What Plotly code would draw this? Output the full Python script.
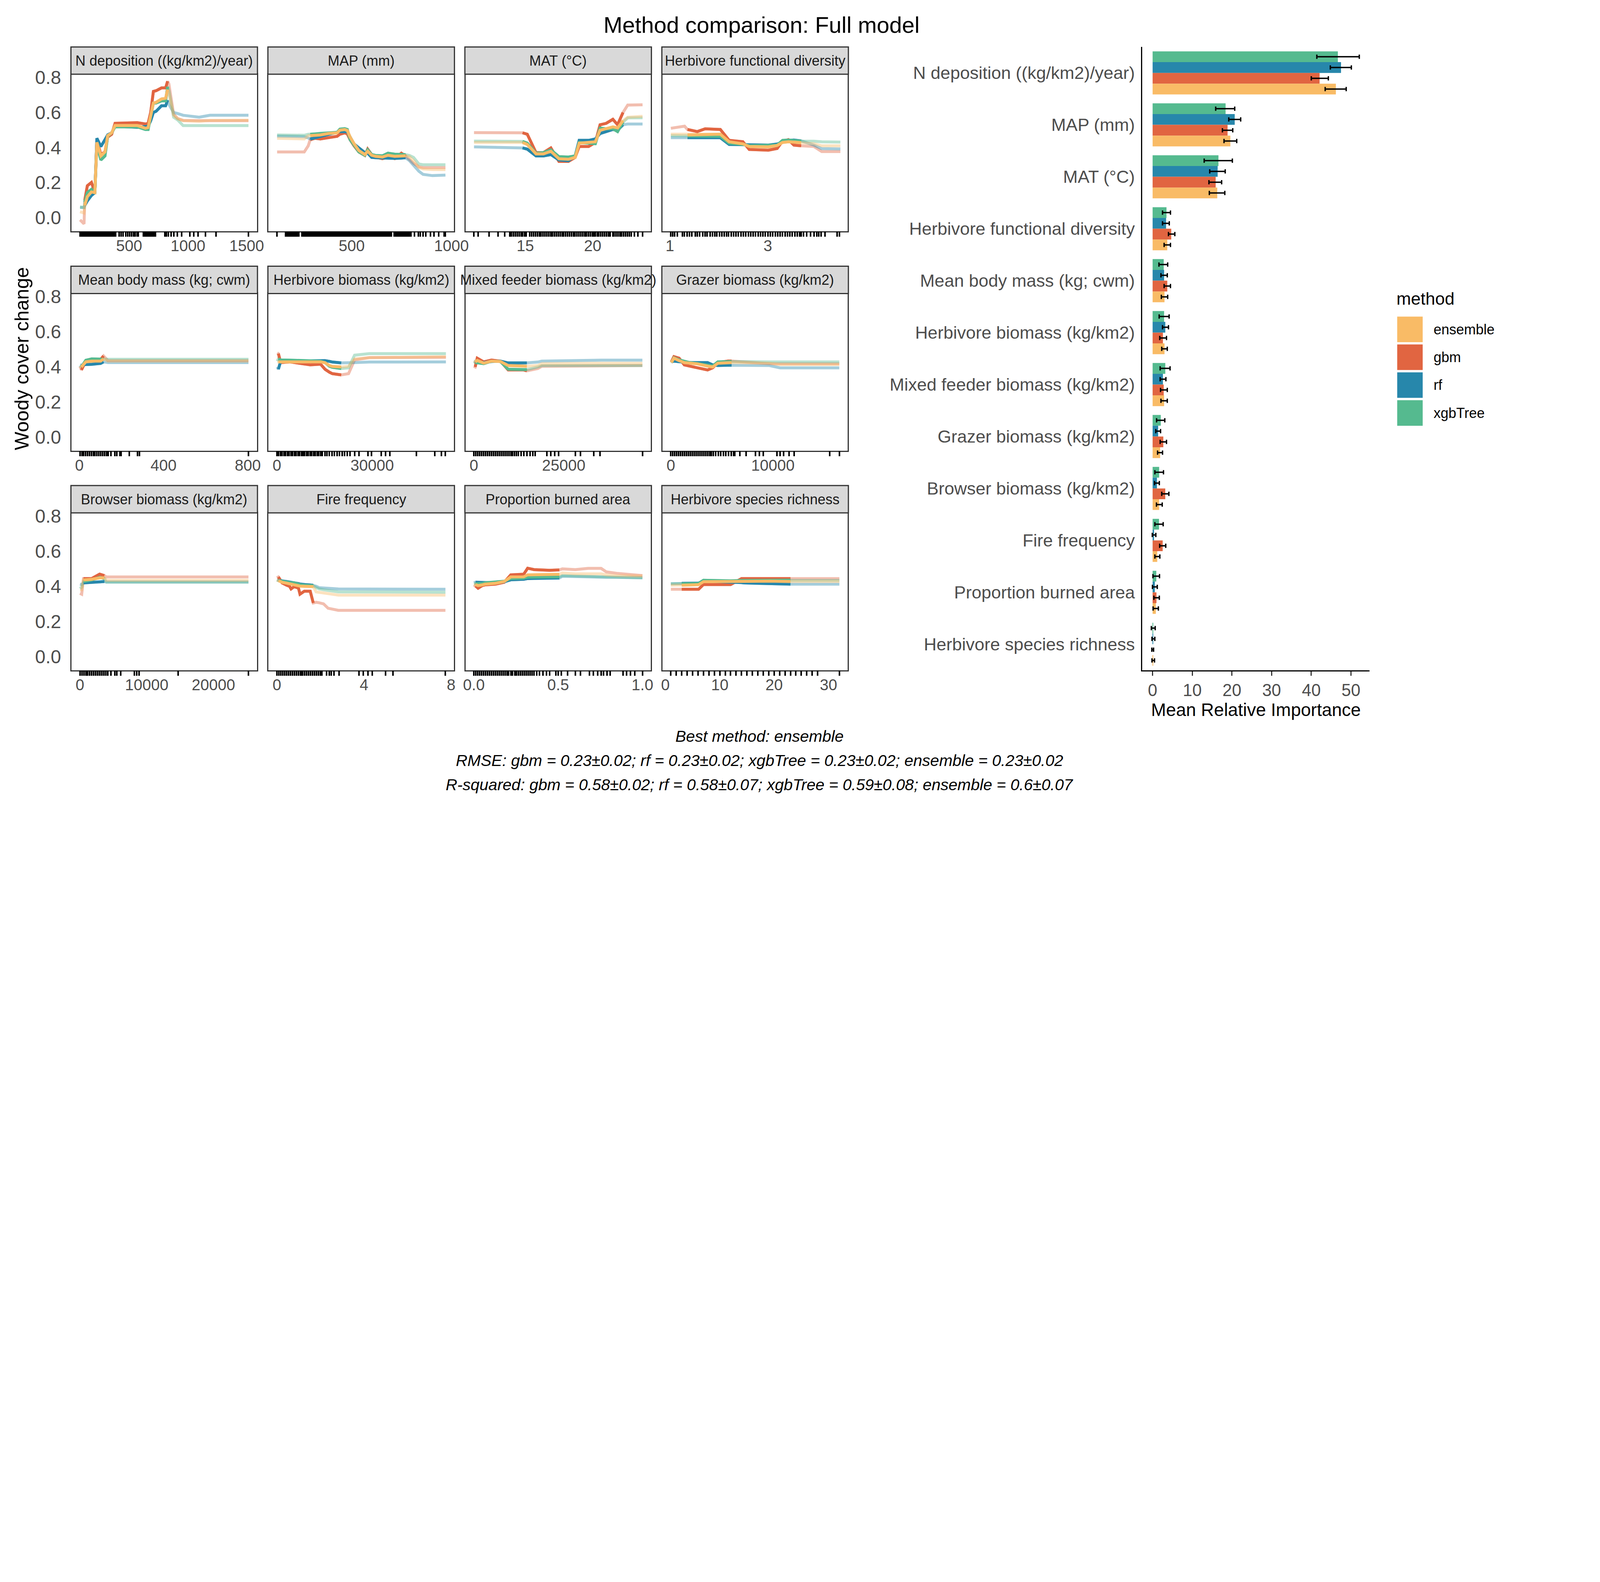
import plotly.graph_objects as go

# layout is laid out in reference pixels (7800 x 4050); the page itself is half that size
W_REF, H_REF = 7800, 4050
K = 0.5
W, H = int(W_REF * K), int(H_REF * K)

METHODS = ["ensemble", "gbm", "rf", "xgbTree"]
METHOD_COLORS = ["#F9BB66", "#E16541", "#2787AB", "#55BA8F"]

FEATURES = [
    "N deposition ((kg/km2)/year)", "MAP (mm)", "MAT (°C)", "Herbivore functional diversity",
    "Mean body mass (kg; cwm)", "Herbivore biomass (kg/km2)", "Mixed feeder biomass (kg/km2)",
    "Grazer biomass (kg/km2)", "Browser biomass (kg/km2)", "Fire frequency",
    "Proportion burned area", "Herbivore species richness",
]

# ---- partial dependence curves (x grid, one y list per method), core range, rug, x ticks
NDEP_X = [82, 116, 122, 144, 179, 208, 225, 259, 294, 317, 351, 380, 569, 638, 661, 683, 706, 729,
          775, 810, 827, 838, 878, 913, 959, 1096, 1188, 1515]
NDEP_ENS = [.034, .027, .07, .12, .147, .143, .43, .352, .375, .468, .484, .526, .526, .51, .514, .576, .654, .658,
            .677, .681, .731, .708, .584, .565, .553, .549, .555, .556]
NDEP_GBM = [-.012, -.035, .10, .182, .201, .143, .445, .36, .375, .46, .476, .538, .542, .534, .538, .60, .72, .724,
            .74, .74, .778, .762, .59, .565, .555, .553, .553, .553]
NDEP_RF = [.058, .058, .07, .096, .127, .143, .453, .406, .445, .472, .484, .522, .515, .522, .522, .553, .60, .607,
           .638, .638, .67, .646, .60, .594, .584, .573, .584, .584]
NDEP_XGB = [.062, .058, .09, .143, .162, .139, .422, .329, .352, .464, .484, .518, .518, .503, .503, .569, .654, .654,
            .666, .666, .747, .724, .573, .557, .525, .525, .525, .525]
NDEP_CORE = [120, 828]
NDEP_RUG = [81, 92, 104, 115, 127, 139, 150, 162, 174, 185, 197, 209, 220, 232, 244, 255, 267, 279, 290, 302,
            314, 325, 337, 349, 360, 372, 385, 414, 431, 448, 471, 489, 503, 520, 537, 552, 569, 578, 620, 633,
            645, 657, 671, 684, 697, 709, 724, 804, 816, 833, 856, 881, 911, 945, 1016, 1048, 1085, 1148, 1240, 1515]
NDEP_TICKS = [500, 1000, 1500]

MAP_X = [126, 262, 282, 292, 316, 343, 383, 427, 441, 465, 478, 492, 512, 536, 566, 580, 600, 620, 654, 682,
         716, 749, 770, 790, 810, 837, 858, 905, 970]
MAP_ENS = [.453, .449, .467, .468, .470, .472, .480, .484, .499, .503, .497, .460, .422, .383, .360, .379, .356, .350,
           .346, .356, .350, .353, .353, .348, .325, .286, .278, .275, .274]
MAP_GBM = [.375, .375, .410, .445, .453, .449, .458, .464, .476, .484, .478, .445, .410, .375, .355, .391, .360, .345,
           .337, .345, .337, .368, .352, .330, .310, .290, .286, .286, .286]
MAP_RF = [.465, .462, .455, .449, .455, .464, .476, .487, .491, .493, .490, .460, .420, .398, .371, .368, .344, .342,
          .340, .338, .338, .340, .342, .325, .300, .265, .247, .240, .243]
MAP_XGB = [.472, .470, .476, .476, .478, .482, .485, .487, .505, .508, .503, .445, .414, .375, .356, .387, .360, .355,
           .353, .368, .362, .361, .360, .355, .344, .306, .302, .302, .302]
MAP_CORE = [290, 772]
MAP_RUG = [125, 168, 175, 182, 190, 197, 204, 212, 219, 227, 234, 251, 258, 266, 273, 280, 287, 295, 302, 309,
           316, 324, 331, 338, 345, 352, 360, 367, 374, 381, 389, 396, 403, 410, 418, 425, 432, 439, 446, 454,
           461, 468, 475, 483, 490, 497, 504, 511, 519, 526, 533, 540, 548, 555, 562, 569, 577, 584, 591, 598,
           605, 613, 620, 627, 634, 642, 649, 656, 663, 670, 678, 685, 692, 699, 712, 719, 727, 734, 741, 748,
           756, 763, 770, 777, 784, 790, 797, 814, 834, 844, 858, 871, 895, 912, 936, 963, 970]
MAP_TICKS = [500, 1000]

MAT_X = [11.2, 14.8, 15.15, 15.8, 16.35, 16.9, 17.5, 18.2, 18.7, 19.0, 19.7, 20.2, 20.55, 21.0, 21.5, 21.85,
         22.25, 22.6, 23.7]
MAT_ENS = [.429, .429, .418, .364, .364, .379, .336, .333, .344, .425, .429, .433, .499, .507, .518, .512, .553, .573, .578]
MAT_GBM = [.485, .484, .476, .371, .371, .398, .321, .321, .344, .406, .406, .429, .530, .538, .561, .530, .600, .642, .644]
MAT_RF = [.404, .398, .391, .352, .352, .360, .329, .325, .352, .441, .441, .449, .480, .491, .503, .499, .530, .534, .534]
MAT_XGB = [.437, .435, .425, .367, .371, .387, .348, .346, .352, .429, .425, .422, .511, .507, .507, .491, .545, .569, .570]
MAT_CORE = [14.8, 22.25]
MAT_RUG = [11.19, 11.51, 12.31, 12.97, 13.47, 13.84, 13.98, 14.12, 14.26, 14.4, 14.54, 14.68, 14.82, 14.96, 15.06,
           15.34, 15.48, 15.62, 15.76, 15.9, 16.04, 16.18, 16.32, 16.46, 16.6, 16.74, 16.88, 17.02, 17.16, 17.3,
           17.44, 17.58, 17.72, 17.86, 18.0, 18.14, 18.28, 18.42, 18.56, 18.7, 18.84, 18.98, 19.12, 19.26, 19.4,
           19.54, 19.68, 19.82, 19.96, 20.09, 20.19, 20.33, 20.47, 20.61, 20.75, 20.89, 21.03, 21.17, 21.31, 21.49,
           21.59, 21.73, 21.87, 22.01, 22.15, 22.29, 22.43, 22.57, 22.71, 22.85, 23.08, 23.36, 23.69]
MAT_TICKS = [15, 20]

HFD_X = [1.02, 1.30, 1.36, 1.56, 1.72, 2.03, 2.21, 2.49, 2.62, 3.01, 3.19, 3.30, 3.42, 3.53, 3.68, 3.94, 4.10, 4.48]
HFD_ENS = [.476, .476, .472, .474, .476, .476, .433, .421, .406, .404, .412, .429, .433, .430, .428, .422, .410, .410]
HFD_GBM = [.510, .522, .503, .491, .507, .503, .441, .433, .389, .385, .395, .437, .445, .414, .410, .406, .377, .377]
HFD_RF = [.456, .456, .456, .456, .456, .456, .418, .416, .414, .414, .420, .429, .441, .443, .438, .414, .394, .392]
HFD_XGB = [.468, .466, .466, .466, .464, .464, .425, .418, .410, .410, .414, .441, .443, .440, .437, .436, .433, .431]
HFD_CORE = [1.35, 3.7]
HFD_RUG = [1.02, 1.06, 1.10, 1.15, 1.26, 1.30, 1.35, 1.40, 1.45, 1.52, 1.56, 1.61, 1.67, 1.72, 1.76, 1.82, 1.87,
           1.92, 1.96, 2.01, 2.06, 2.11, 2.16, 2.20, 2.25, 2.30, 2.35, 2.40, 2.45, 2.50, 2.55, 2.60, 2.65, 2.70,
           2.75, 2.80, 2.85, 2.90, 2.95, 3.00, 3.05, 3.10, 3.15, 3.20, 3.25, 3.30, 3.35, 3.40, 3.45, 3.50, 3.55,
           3.60, 3.65, 3.68, 3.73, 3.79, 3.87, 3.94, 4.00, 4.04, 4.09, 4.17, 4.41, 4.46]
HFD_TICKS = [1, 3]

MBM_X = [3, 10, 31, 59, 80, 101, 115, 136, 803]
MBM_ENS = [.404, .400, .429, .433, .433, .433, .446, .433, .433]
MBM_GBM = [.404, .383, .433, .437, .438, .442, .463, .436, .436]
MBM_RF = [.412, .410, .414, .415, .416, .420, .429, .425, .425]
MBM_XGB = [.408, .400, .438, .446, .446, .444, .444, .444, .444]
MBM_CORE = [7, 116]
MBM_RUG = [3, 12, 21, 30, 39, 48, 57, 66, 75, 84, 93, 102, 111, 120, 129, 138, 150, 168, 178, 192, 199, 238, 276, 285, 803]
MBM_TICKS = [0, 400, 800]

HB_X = [100, 460, 1200, 4000, 7700, 10500, 13750, 15150, 16550, 17450, 20250, 22550, 24450, 29100, 53200]
HB_ENS = [.429, .429, .429, .433, .429, .430, .429, .424, .408, .403, .400, .404, .446, .453, .459]
HB_GBM = [.480, .476, .425, .429, .420, .412, .416, .387, .370, .362, .355, .362, .440, .453, .455]
HB_RF = [.400, .387, .433, .433, .433, .436, .437, .436, .432, .428, .423, .423, .425, .428, .429]
HB_XGB = [.433, .446, .440, .439, .436, .436, .433, .425, .404, .398, .391, .395, .467, .476, .476]
HB_CORE = [300, 20300]
HB_RUG = [0, 550, 1100, 1650, 2200, 2750, 3300, 3850, 4400, 4950, 5500, 6050, 6600, 7150, 7700, 8250, 8800, 9350,
          9900, 10450, 11000, 11550, 12100, 12650, 13200, 13750, 14300, 15100, 15700, 16500, 17300, 18100, 18900,
          19700, 20500, 21300, 22100, 23000, 24430, 25830, 28610, 29820, 32790, 34190, 35580, 43940, 49700, 51840, 53050]
HB_TICKS = [0, 30000]

MFB_X = [0, 360, 930, 2730, 4900, 7400, 9550, 13850, 14750, 17800, 18900, 35400, 46900]
MFB_ENS = [.425, .429, .437, .422, .433, .431, .408, .405, .404, .408, .419, .421, .421]
MFB_GBM = [.404, .400, .450, .429, .439, .433, .383, .383, .378, .391, .404, .408, .408]
MFB_RF = [.433, .433, .430, .425, .431, .433, .423, .423, .423, .428, .433, .439, .439]
MFB_XGB = [.420, .425, .424, .419, .433, .431, .387, .385, .385, .400, .408, .408, .408]
MFB_CORE = [200, 14800]
MFB_RUG = [0, 540, 1080, 1620, 2160, 2700, 3240, 3780, 4320, 4860, 5400, 5940, 6480, 7020, 7560, 8100, 8640, 9180,
           9720, 10260, 10800, 11340, 11880, 12430, 13150, 13870, 14730, 15660, 16380, 17100, 20330, 21400, 22480,
           23560, 28230, 29670, 33410, 35060, 46910]
MFB_TICKS = [0, 25000]

GB_X = [50, 300, 810, 1320, 1820, 2580, 3600, 4100, 4600, 5600, 5950, 9650, 10700, 16500]
GB_ENS = [.425, .450, .436, .425, .422, .418, .405, .400, .421, .425, .425, .421, .414, .414]
GB_GBM = [.429, .459, .450, .412, .405, .395, .383, .395, .425, .434, .434, .418, .418, .418]
GB_RF = [.429, .433, .430, .427, .425, .425, .425, .412, .408, .410, .410, .408, .395, .395]
GB_XGB = [.425, .452, .440, .433, .425, .420, .412, .405, .429, .431, .431, .429, .429, .429]
GB_CORE = [0, 5960]
GB_RUG = [0, 190, 380, 570, 760, 950, 1140, 1330, 1520, 1710, 1900, 2090, 2280, 2470, 2660, 2850, 3040, 3230, 3420,
          3610, 3800, 3975, 4150, 4400, 4650, 4900, 5150, 5400, 5650, 5900, 6130, 6250, 6760, 7390, 8280, 8660,
          9040, 10380, 10690, 11060, 11570, 12080, 15550, 16510]
GB_TICKS = [0, 10000]

BB_X = [0, 265, 530, 1770, 2950, 3660, 3970, 25250]
BB_ENS = [.381, .381, .436, .440, .448, .448, .434, .434]
BB_GBM = [.360, .355, .444, .444, .469, .461, .453, .453]
BB_RF = [.412, .410, .419, .422, .428, .427, .425, .425]
BB_XGB = [.387, .395, .427, .436, .451, .444, .423, .423]
BB_CORE = [450, 3670]
BB_RUG = [0, 290, 580, 870, 1160, 1450, 1740, 2030, 2320, 2610, 2900, 3190, 3480, 3770, 4060, 4190, 4640, 5210,
          5520, 6090, 8170, 8500, 8830, 14700, 25250]
BB_TICKS = [0, 10000, 20000]

FF_X = [0, 0.07, 0.24, 0.45, 0.58, 0.65, 0.79, 0.99, 1.06, 1.26, 1.53, 1.67, 1.80, 1.94, 2.14, 2.35, 2.82, 7.74]
FF_ENS = [.436, .432, .423, .418, .414, .412, .410, .402, .401, .400, .399, .398, .368, .365, .362, .360, .350, .350]
FF_GBM = [.448, .453, .419, .406, .400, .385, .398, .390, .355, .372, .372, .305, .309, .306, .300, .275, .263, .263]
FF_RF = [.436, .434, .431, .428, .425, .423, .420, .415, .412, .410, .408, .406, .400, .392, .390, .388, .385, .383]
FF_XGB = [.436, .432, .428, .425, .420, .420, .420, .412, .409, .406, .404, .403, .392, .385, .380, .375, .368, .366]
FF_CORE = [0.03, 1.68]
FF_RUG = [0, 0.09, 0.18, 0.27, 0.36, 0.45, 0.54, 0.63, 0.72, 0.81, 0.9, 0.99, 1.08, 1.13, 1.19, 1.28, 1.37, 1.46,
          1.55, 1.64, 1.73, 1.82, 1.91, 2.0, 2.07, 2.28, 2.4, 2.5, 2.62, 2.86, 3.77, 3.97, 4.18, 4.38, 4.99, 5.33, 7.74]
FF_TICKS = [0, 4, 8]

PBA_X = [0, 0.01, 0.025, 0.05, 0.066, 0.127, 0.18, 0.219, 0.296, 0.319, 0.357, 0.449, 0.507, 0.525, 0.602,
         0.678, 0.755, 0.786, 0.847, 1.0]
PBA_ENS = [.410, .410, .404, .408, .412, .417, .427, .453, .454, .465, .465, .465, .468, .476, .471, .471, .471,
           .465, .461, .458]
PBA_GBM = [.408, .402, .389, .404, .408, .412, .423, .465, .469, .503, .495, .491, .493, .499, .495, .502, .502,
           .482, .474, .461]
PBA_RF = [.420, .423, .423, .422, .421, .419, .426, .437, .440, .444, .445, .446, .447, .457, .454, .454, .452,
          .451, .451, .448]
PBA_XGB = [.415, .414, .414, .416, .420, .423, .429, .444, .446, .452, .452, .452, .454, .461, .459, .459, .457,
           .454, .451, .448]
PBA_CORE = [0.005, 0.51]
PBA_RUG = [0, 0.012, 0.023, 0.035, 0.046, 0.058, 0.069, 0.081, 0.092, 0.104, 0.115, 0.127, 0.138, 0.15, 0.161,
           0.173, 0.184, 0.196, 0.207, 0.219, 0.23, 0.242, 0.253, 0.265, 0.276, 0.288, 0.299, 0.311, 0.322, 0.334,
           0.345, 0.357, 0.372, 0.39, 0.41, 0.43, 0.449, 0.487, 0.5, 0.518, 0.556, 0.602, 0.632, 0.686, 0.71, 0.735,
           0.755, 0.77, 0.79, 0.809, 0.885, 0.905, 0.93, 0.954, 1.0]
PBA_TICKS = [0, 0.5, 1.0]

HSR_X = [1, 3, 4.9, 6.1, 7, 9.7, 12, 14, 14.4, 16.8, 19.2, 23, 32]
HSR_ENS = [.406, .406, .408, .409, .426, .427, .427, .430, .431, .430, .429, .427, .427]
HSR_GBM = [.383, .383, .381, .383, .410, .410, .410, .444, .444, .445, .445, .444, .444]
HSR_RF = [.414, .417, .418, .418, .431, .425, .423, .421, .419, .417, .415, .412, .412]
HSR_XGB = [.414, .414, .415, .416, .434, .431, .431, .433, .433, .433, .433, .435, .433]
HSR_CORE = [3, 23]
HSR_RUG = [1, 2, 3, 4, 5, 6, 7, 8, 9, 10, 11, 12, 13, 14, 15, 16, 17, 18, 19, 20, 21, 22, 23, 24, 25, 26, 27, 28, 32]
HSR_TICKS = [0, 10, 20, 30]

# ---- mean relative importance (same order as FEATURES)
IMP_ENSEMBLE = [46.2, 19.6, 16.3, 3.7, 3.0, 3.0, 2.9, 1.9, 1.65, 1.17, 0.81, 0.08]
IMP_ENSEMBLE_LO = [43.5, 18.0, 14.3, 2.9, 2.2, 2.3, 2.1, 1.25, 0.97, 0.57, 0.12, -0.16]
IMP_ENSEMBLE_HI = [48.8, 21.2, 18.2, 4.5, 3.8, 3.7, 3.7, 2.5, 2.42, 1.82, 1.45, 0.48]
IMP_GBM = [42.1, 18.9, 15.9, 4.7, 3.7, 2.6, 2.8, 2.7, 3.19, 2.54, 0.97, 0.0]
IMP_GBM_LO = [40.0, 17.6, 14.2, 4.0, 2.9, 1.8, 2.0, 1.9, 2.3, 1.78, 0.32, -0.2]
IMP_GBM_HI = [44.3, 20.2, 17.4, 5.6, 4.5, 3.5, 3.7, 3.5, 4.1, 3.31, 1.69, 0.24]
IMP_RF = [47.5, 20.7, 16.4, 3.4, 2.9, 3.2, 2.6, 1.4, 1.09, 0.36, 0.56, 0.12]
IMP_RF_LO = [44.8, 19.2, 14.4, 2.5, 2.1, 2.5, 1.9, 0.8, 0.48, -0.08, -0.04, -0.16]
IMP_RF_HI = [50.1, 22.2, 18.3, 4.2, 3.7, 4.0, 3.35, 2.0, 1.69, 0.81, 1.17, 0.56]
IMP_XGB = [46.7, 18.4, 16.6, 3.5, 2.8, 2.9, 3.2, 2.06, 1.65, 1.61, 0.93, 0.16]
IMP_XGB_LO = [41.4, 15.9, 13.0, 2.5, 1.6, 1.65, 1.9, 1.0, 0.57, 0.57, 0.08, -0.32]
IMP_XGB_HI = [52.1, 20.7, 20.1, 4.5, 3.8, 4.16, 4.4, 3.07, 2.74, 2.66, 1.74, 0.65]

TITLE = "Method comparison: Full model"
CAPTION = [
    "Best method: ensemble",
    "RMSE: gbm = 0.23±0.02; rf = 0.23±0.02; xgbTree = 0.23±0.02; ensemble = 0.23±0.02",
    "R-squared: gbm = 0.58±0.02; rf = 0.58±0.07; xgbTree = 0.59±0.08; ensemble = 0.6±0.07",
]

PANELS = [
    (NDEP_X, [NDEP_ENS, NDEP_GBM, NDEP_RF, NDEP_XGB], NDEP_CORE, NDEP_RUG, NDEP_TICKS),
    (MAP_X, [MAP_ENS, MAP_GBM, MAP_RF, MAP_XGB], MAP_CORE, MAP_RUG, MAP_TICKS),
    (MAT_X, [MAT_ENS, MAT_GBM, MAT_RF, MAT_XGB], MAT_CORE, MAT_RUG, MAT_TICKS),
    (HFD_X, [HFD_ENS, HFD_GBM, HFD_RF, HFD_XGB], HFD_CORE, HFD_RUG, HFD_TICKS),
    (MBM_X, [MBM_ENS, MBM_GBM, MBM_RF, MBM_XGB], MBM_CORE, MBM_RUG, MBM_TICKS),
    (HB_X, [HB_ENS, HB_GBM, HB_RF, HB_XGB], HB_CORE, HB_RUG, HB_TICKS),
    (MFB_X, [MFB_ENS, MFB_GBM, MFB_RF, MFB_XGB], MFB_CORE, MFB_RUG, MFB_TICKS),
    (GB_X, [GB_ENS, GB_GBM, GB_RF, GB_XGB], GB_CORE, GB_RUG, GB_TICKS),
    (BB_X, [BB_ENS, BB_GBM, BB_RF, BB_XGB], BB_CORE, BB_RUG, BB_TICKS),
    (FF_X, [FF_ENS, FF_GBM, FF_RF, FF_XGB], FF_CORE, FF_RUG, FF_TICKS),
    (PBA_X, [PBA_ENS, PBA_GBM, PBA_RF, PBA_XGB], PBA_CORE, PBA_RUG, PBA_TICKS),
    (HSR_X, [HSR_ENS, HSR_GBM, HSR_RF, HSR_XGB], HSR_CORE, HSR_RUG, HSR_TICKS),
]

IMPORTANCE = {
    "ensemble": (IMP_ENSEMBLE, IMP_ENSEMBLE_LO, IMP_ENSEMBLE_HI),
    "gbm": (IMP_GBM, IMP_GBM_LO, IMP_GBM_HI),
    "rf": (IMP_RF, IMP_RF_LO, IMP_RF_HI),
    "xgbTree": (IMP_XGB, IMP_XGB_LO, IMP_XGB_HI),
}

FONT = "Liberation Sans, Arial, sans-serif"
Y_RANGE = [-0.078, 0.818]


def fx(p):
    return p / W_REF


def fy(p):
    return 1 - p / H_REF


def s(v):
    # size in reference pixels -> page pixels
    return v * K


def si(v):
    return int(round(v * K))


def fade(hexcol, a=0.42):
    r, g, b = int(hexcol[1:3], 16), int(hexcol[3:5], 16), int(hexcol[5:7], 16)
    return f"rgba({r},{g},{b},{a})"


def ax(prefix, k):
    return prefix if k == 1 else f"{prefix}{k}"


# panel geometry in reference pixels
COLS = [(342, 1302), (1362, 2322), (2382, 3342), (3402, 4362)]
ROWS = [(331, 1143), (1464, 2277), (2597, 3410)]
STRIP_H = 141
NP = len(PANELS)
BAR = 2 * NP + 1

fig = go.Figure()
layout = {}
shapes = []
annotations = []

draw_order = [1, 2, 3, 0]  # gbm, rf, xgbTree, ensemble on top

for i, (xs, ys, core, rug, ticks) in enumerate(PANELS):
    k = i + 1
    xa, ya = ax("x", k), ax("y", k)
    xr = f"x{k + NP}"
    col, row = i % 4, i // 4
    (l, r), (t, b) = COLS[col], ROWS[row]

    for m in draw_order:
        fig.add_trace(go.Scatter(x=xs, y=ys[m], mode="lines", xaxis=xa, yaxis=ya,
                                 line=dict(color=fade(METHOD_COLORS[m]), width=s(15)),
                                 showlegend=False, hoverinfo="skip"))
    for m in draw_order:
        cx = [x for x in xs if core[0] <= x <= core[1]]
        cy = [y for x, y in zip(xs, ys[m]) if core[0] <= x <= core[1]]
        fig.add_trace(go.Scatter(x=cx, y=cy, mode="lines", xaxis=xa, yaxis=ya,
                                 line=dict(color=METHOD_COLORS[m], width=s(15)),
                                 showlegend=False, hoverinfo="skip"))
    # invisible trace so the rug axis is drawn
    fig.add_trace(go.Scatter(x=rug[:1], y=[0.4], mode="markers", xaxis=xr, yaxis=ya,
                             marker=dict(opacity=0), showlegend=False, hoverinfo="skip"))

    lo, hi = min(rug), max(rug)
    pad = 0.05 * (hi - lo)
    xrange = [lo - pad, hi + pad]
    layout[ax("xaxis", k)] = dict(
        domain=[fx(l), fx(r)], anchor=ya, range=xrange,
        tickvals=ticks, tickformat=".1f" if k == 11 else "d",
        ticks="", showgrid=False, zeroline=False,
        showline=True, mirror=True, linecolor="#333333", linewidth=s(6),
        tickfont=dict(size=s(80), color="#4D4D4D", family=FONT), ticklabelstandoff=0,
    )
    # rug drawn as ticks of an overlaid axis, just outside the panel
    layout[f"xaxis{k + NP}"] = dict(
        overlaying=xa, anchor=ya, side="bottom", range=xrange,
        tickvals=rug, ticks="outside", ticklen=s(26), tickwidth=s(8), tickcolor="#000000",
        showticklabels=False, showline=False, showgrid=False, zeroline=False,
    )
    layout[ax("yaxis", k)] = dict(
        domain=[fy(b), fy(t)], anchor=xa, range=Y_RANGE,
        tickvals=[0, 0.2, 0.4, 0.6, 0.8], tickformat=".1f", showticklabels=(col == 0),
        ticks="", showgrid=False, zeroline=False,
        showline=True, mirror=True, linecolor="#333333", linewidth=s(6),
        tickfont=dict(size=s(96), color="#4D4D4D", family=FONT), ticklabelstandoff=si(28),
    )
    # facet strip
    shapes.append(dict(type="rect", xref="paper", yref="paper",
                       x0=fx(l - 3), x1=fx(r + 3), y0=fy(t), y1=fy(t - STRIP_H),
                       fillcolor="#D9D9D9", line=dict(color="#333333", width=s(6))))
    annotations.append(dict(text=FEATURES[i], xref="paper", yref="paper",
                            x=fx((l + r) / 2), y=fy(t - STRIP_H / 2), showarrow=False,
                            xanchor="center", yanchor="middle",
                            font=dict(size=s(72), color="#1A1A1A", family=FONT)))

# importance bars: top to bottom within group xgbTree, rf, gbm, ensemble
for name in ["xgbTree", "rf", "gbm", "ensemble"]:
    v, lo_, hi_ = IMPORTANCE[name]
    c = METHOD_COLORS[METHODS.index(name)]
    fig.add_trace(go.Bar(
        y=FEATURES, x=v, orientation="h", name=name, xaxis=f"x{BAR}", yaxis=f"y{BAR}",
        marker=dict(color=c, line=dict(width=0)),
        error_x=dict(type="data", symmetric=False,
                     array=[h - a for a, h in zip(v, hi_)],
                     arrayminus=[a - q for a, q in zip(v, lo_)],
                     color="black", thickness=s(7), width=s(11)),
        showlegend=False, hoverinfo="skip",
    ))

layout[f"xaxis{BAR}"] = dict(
    domain=[fx(5887), fx(7064)], anchor=f"y{BAR}", range=[-2.6, 54.7],
    tickvals=[0, 10, 20, 30, 40, 50], ticks="outside", ticklen=s(22), tickwidth=s(6), tickcolor="#333333",
    showline=True, linecolor="black", linewidth=s(6), showgrid=False, zeroline=False,
    tickfont=dict(size=s(87), color="#4D4D4D", family=FONT),
    title=dict(text="Mean Relative Importance", font=dict(size=s(92), color="black", family=FONT),
               standoff=0),
)
layout[f"yaxis{BAR}"] = dict(
    domain=[fy(3410), fy(190)], anchor=f"x{BAR}", type="category",
    categoryorder="array", categoryarray=FEATURES, autorange="reversed",
    showline=True, linecolor="black", linewidth=s(6), showgrid=False, zeroline=False, ticks="",
    tickfont=dict(size=s(90), color="#4D4D4D", family=FONT), ticklabelstandoff=si(14),
)

# legend drawn as keys + labels
annotations.append(dict(text="method", xref="paper", yref="paper", x=fx(7200), y=fy(1490),
                        xanchor="left", yanchor="middle", showarrow=False,
                        font=dict(size=s(89), color="black", family=FONT)))
for j, (name, c) in enumerate(zip(METHODS, METHOD_COLORS)):
    yc = 1649 + 144 * j
    shapes.append(dict(type="rect", xref="paper", yref="paper",
                       x0=fx(7207), x1=fx(7339), y0=fy(yc + 66), y1=fy(yc - 66),
                       fillcolor=c, line=dict(width=0)))
    annotations.append(dict(text=name, xref="paper", yref="paper", x=fx(7392), y=fy(yc),
                            xanchor="left", yanchor="middle", showarrow=False,
                            font=dict(size=s(72), color="black", family=FONT)))

# titles and caption
annotations.append(dict(text=TITLE, xref="paper", yref="paper", x=fx(3915), y=fy(75),
                        xanchor="center", yanchor="middle", showarrow=False,
                        font=dict(size=s(116), color="black", family=FONT)))
annotations.append(dict(text="Woody cover change", xref="paper", yref="paper", x=fx(84), y=fy(1800),
                        xanchor="center", yanchor="middle", showarrow=False, textangle=-90,
                        font=dict(size=s(100), color="black", family=FONT)))
for j, line in enumerate(CAPTION):
    annotations.append(dict(text=f"<i>{line}</i>", xref="paper", yref="paper",
                            x=fx(3905), y=fy(3752 + 125 * j), xanchor="center", yanchor="middle",
                            showarrow=False, font=dict(size=s(82), color="black", family=FONT)))

fig.update_layout(
    **layout,
    width=W, height=H,
    margin=dict(l=0, r=0, t=0, b=0),
    plot_bgcolor="white", paper_bgcolor="white",
    barmode="group", bargap=0.17, bargroupgap=0,
    showlegend=False,
    shapes=shapes, annotations=annotations,
    font=dict(family=FONT),
)

fig.write_html("out.html")
